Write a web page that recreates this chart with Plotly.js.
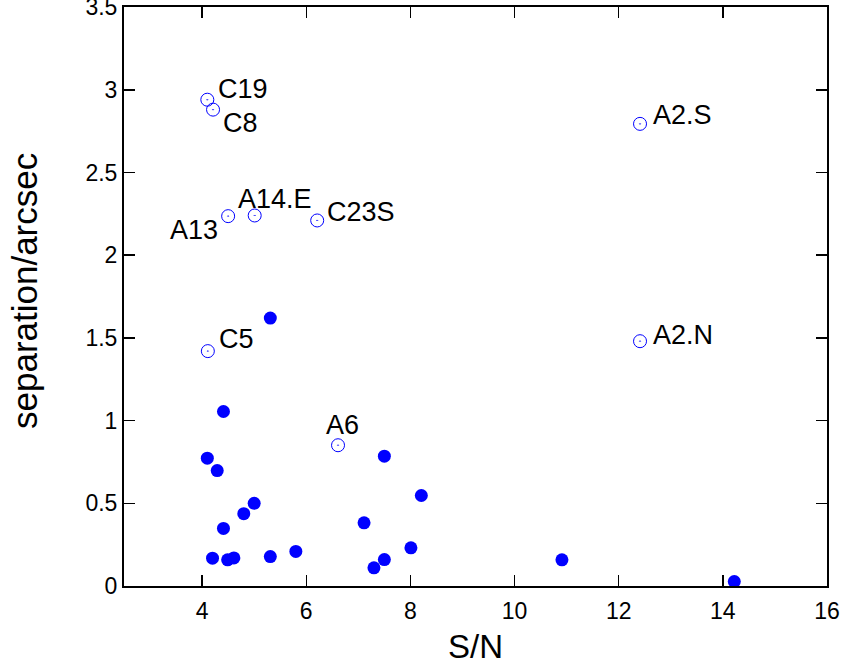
<!DOCTYPE html>
<html>
<head>
<meta charset="utf-8">
<script src="https://cdn.plot.ly/plotly-3.0.1.min.js"></script>
<style>html,body{margin:0;padding:0;background:#fff;}#chart{width:846px;height:667px;}</style>
</head>
<body>
<div id="chart"></div>
<script>
// Filled points (unlabelled)
const filledSN  = [5.31, 4.41, 4.10, 4.29, 7.50, 8.21, 5.00, 4.80, 4.41, 7.11, 4.20, 4.49, 4.61, 5.31, 5.80, 8.01, 7.50, 7.30, 10.91, 14.22];
const filledSep = [1.62, 1.055, 0.773, 0.698, 0.785, 0.547, 0.50, 0.437, 0.348, 0.382, 0.168, 0.158, 0.170, 0.178, 0.209, 0.231, 0.160, 0.110, 0.158, 0.027];

// Open (labelled) points
const openNames = ["C19", "C8", "A13", "A14.E", "C23S", "A2.S", "A2.N", "C5", "A6"];
const openSN    = [4.10, 4.21, 4.50, 5.01, 6.21, 12.41, 12.41, 4.11, 6.61];
const openSep   = [2.94, 2.88, 2.236, 2.24, 2.21, 2.794, 1.48, 1.42, 0.851];

// Label placement relative to each open point: [xanchor, xshift, yshift]
const labelPlace = {
  "C19":   ["left", 10, 11],
  "C8":    ["left", 9, -13],
  "A13":   ["right", -9, -14],
  "A14.E": ["left", -18, 16],
  "C23S":  ["left", 9, 8],
  "A2.S":  ["left", 12, 9],
  "A2.N":  ["left", 12, 6],
  "C5":    ["left", 10, 12],
  "A6":    ["center", 4, 20]
};

const xTicks = [4, 6, 8, 10, 12, 14, 16];
const yTicks = [0, 0.5, 1, 1.5, 2, 2.5, 3, 3.5];
const xTitle = "S/N";
const yTitle = "separation/arcsec";

const FONT = "Liberation Sans, Arial, Helvetica, sans-serif";

const traces = [
  {
    x: filledSN, y: filledSep, type: "scatter", mode: "markers",
    marker: {symbol: "circle", size: 13, color: "#0000ff", line: {width: 0}},
    hoverinfo: "x+y", showlegend: false
  },
  {
    x: openSN, y: openSep, type: "scatter", mode: "markers",
    marker: {symbol: "circle-open-dot", size: 13, color: "#0000ff", line: {width: 1, color: "#0000ff"}},
    text: openNames, hoverinfo: "text+x+y", showlegend: false
  }
];

const annotations = openNames.map((n, i) => ({
  x: openSN[i], y: openSep[i], xref: "x", yref: "y",
  text: n, showarrow: false,
  xanchor: labelPlace[n][0], yanchor: "middle",
  xshift: labelPlace[n][1], yshift: labelPlace[n][2],
  borderpad: 0,
  font: {family: FONT, size: 27, color: "#000"}
}));

// y-axis title drawn as a rotated annotation for exact placement
annotations.push({
  xref: "paper", yref: "paper", x: -0.1408, y: 0.5095,
  xanchor: "center", yanchor: "middle", textangle: -90,
  text: yTitle, showarrow: false, borderpad: 0,
  font: {family: FONT, size: 35, color: "#000"}
});

const axisCommon = {
  showgrid: false, zeroline: false,
  showline: true, linecolor: "#000", linewidth: 2,
  mirror: "allticks", ticks: "inside", ticklen: 11, tickwidth: 1.5, tickcolor: "#000",
  ticklabeloverflow: "allow",
  tickfont: {family: FONT, size: 23, color: "#000"}
};

const layout = {
  width: 846, height: 667,
  margin: {l: 124, r: 19, t: 7, b: 81},
  paper_bgcolor: "#fff", plot_bgcolor: "#fff",
  font: {family: FONT, color: "#000"},
  xaxis: Object.assign({}, axisCommon, {
    range: [2.5, 16.0005], tickvals: xTicks, ticktext: xTicks.map(String),
    ticklabelstandoff: 3,
    title: {text: xTitle, font: {family: FONT, size: 33, color: "#000"}, standoff: 12}
  }),
  yaxis: Object.assign({}, axisCommon, {
    range: [0, 3.5005], tickvals: yTicks, ticktext: yTicks.map(String)
  }),
  annotations: annotations,
  showlegend: false
};

Plotly.newPlot("chart", traces, layout, {displayModeBar: false, staticPlot: true});
</script>
</body>
</html>
